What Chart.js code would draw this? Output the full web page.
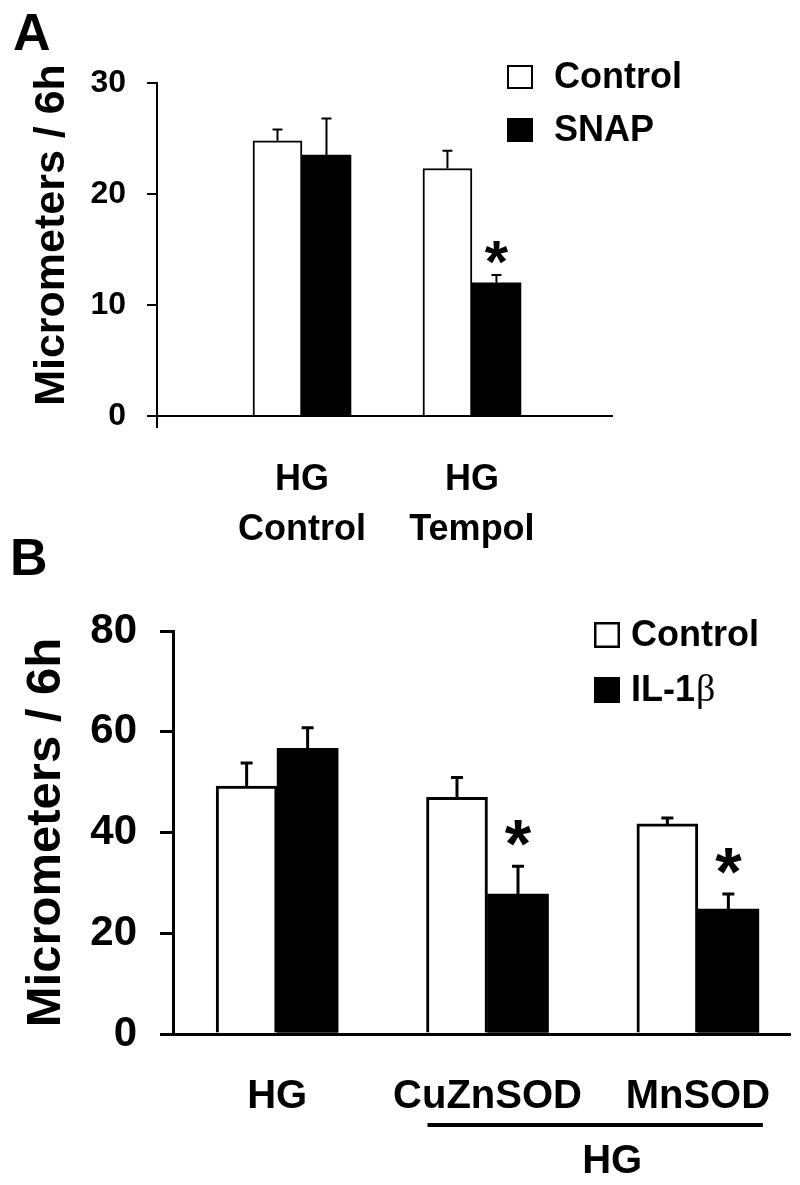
<!DOCTYPE html>
<html lang="en">
<head>
<meta charset="UTF-8">
<title>Micrometers / 6h</title>
<script src="https://cdn.jsdelivr.net/npm/chart.js"></script>
<style>
  body { margin: 0; background: #fff; width: 800px; height: 1185px; position: relative; overflow: hidden; }
  .panel { position: absolute; left: 0; width: 800px; }
  #panelA { top: 0; height: 560px; }
  #panelB { top: 520px; height: 665px; }
</style>
</head>
<body>
<div class="panel" id="panelA"><canvas id="chartA"></canvas></div>
<div class="panel" id="panelB"><canvas id="chartB"></canvas></div>
<script>
// Panel A
const categoriesA = [['HG', 'Control'], ['HG', 'Tempol']];
const seriesA = ['Control', 'SNAP'];
const controlA = [24.8, 22.3];
const controlErrA = [1.0, 1.6];
const snapA = [23.5, 12.0];
const snapErrA = [3.3, 0.7];
const snapSigA = [false, true];
const ticksA = [0, 10, 20, 30];

// Panel B
const categoriesB = ['HG', 'CuZnSOD', 'MnSOD'];
const groupLabelB = 'HG';
const seriesB = ['Control', 'IL-1β'];
const controlB = [49.2, 47.0, 41.7];
const controlErrB = [4.6, 3.9, 1.2];
const ilB = [56.7, 27.8, 24.8];
const ilErrB = [4.1, 5.5, 3.0];
const ilSigB = [false, true, true];
const ticksB = [0, 20, 40, 60, 80];

const FONT = '"Liberation Sans", Arial, sans-serif';
Chart.defaults.font.family = FONT;
Chart.defaults.color = '#000';

function pts(values) {
    return values.map((v, i) => ({ x: i + 1, y: v }));
}

// error bars (upper only) + significance stars
const errorBars = {
    id: 'errorBars',
    afterDatasetsDraw(chart, args, o) {
        const { ctx } = chart;
        const y = chart.scales.y;
        ctx.save();
        ctx.strokeStyle = '#000';
        ctx.fillStyle = '#000';
        ctx.lineWidth = o.width;
        chart.data.datasets.forEach((ds, di) => {
            chart.getDatasetMeta(di).data.forEach((bar, i) => {
                const top = y.getPixelForValue(ds.data[i].y + ds.errors[i]);
                ctx.beginPath();
                ctx.moveTo(bar.x, bar.y);
                ctx.lineTo(bar.x, top);
                ctx.moveTo(bar.x - o.cap / 2, top);
                ctx.lineTo(bar.x + o.cap / 2, top);
                ctx.stroke();
                if (ds.sig && ds.sig[i]) {
                    ctx.font = o.starFont;
                    ctx.textAlign = 'center';
                    ctx.textBaseline = 'alphabetic';
                    ctx.fillText('*', bar.x, top + o.starOffset);
                }
            });
        });
        ctx.restore();
    }
};

// legend with square swatches
const boxLegend = {
    id: 'boxLegend',
    afterDraw(chart, args, o) {
        const ctx = chart.ctx;
        ctx.save();
        chart.data.datasets.forEach((ds, i) => {
            const top = o.y + i * o.rowGap;
            ctx.fillStyle = ds.backgroundColor;
            ctx.fillRect(o.x, top, o.w, o.h);
            ctx.lineWidth = o.border;
            ctx.strokeStyle = '#000';
            ctx.strokeRect(o.x + o.border / 2, top + o.border / 2, o.w - o.border, o.h - o.border);
            ctx.fillStyle = '#000';
            ctx.textAlign = 'left';
            ctx.textBaseline = 'middle';
            const cy = top + o.h / 2 + o.textDy;
            let label = ds.label;
            let greek = '';
            if (label.endsWith('β')) { greek = 'β'; label = label.slice(0, -1); }
            ctx.font = o.font;
            ctx.fillText(label, o.textX, cy);
            if (greek) {
                const w = ctx.measureText(label).width;
                ctx.font = o.greekFont;
                ctx.fillText(greek, o.textX + w + 1, cy);
            }
        });
        ctx.restore();
    }
};

// panel letter, y title, axis extension, group underline
const panelDecor = {
    id: 'panelDecor',
    afterDraw(chart, args, o) {
        const { ctx, chartArea } = chart;
        const x = chart.scales.x;
        ctx.save();
        ctx.fillStyle = '#000';
        ctx.strokeStyle = '#000';
        ctx.textBaseline = 'alphabetic';
        ctx.textAlign = 'left';
        ctx.font = 'bold 52px ' + FONT;
        ctx.fillText(o.letter, o.letterX, o.letterY);

        ctx.save();
        ctx.translate(o.titleX, o.titleY);
        ctx.rotate(-Math.PI / 2);
        ctx.font = o.titleFont;
        ctx.textAlign = 'center';
        ctx.fillText(o.title, 0, 0);
        ctx.restore();

        if (o.axisExtend) {
            ctx.lineWidth = o.axisWidth;
            ctx.beginPath();
            ctx.moveTo(chartArea.left, chartArea.bottom);
            ctx.lineTo(chartArea.left, chartArea.bottom + o.axisExtend);
            ctx.stroke();
        }

        if (o.group) {
            const g = o.group;
            const x1 = x.getPixelForValue(g.from) - g.padL;
            const x2 = x.getPixelForValue(g.to) + g.padR;
            ctx.lineWidth = g.lineWidth;
            ctx.beginPath();
            ctx.moveTo(x1, g.y);
            ctx.lineTo(x2, g.y);
            ctx.stroke();
            ctx.font = g.font;
            ctx.textAlign = 'center';
            ctx.fillText(g.text, (x1 + x2) / 2 + g.textDx, g.textY);
        }
        ctx.restore();
    }
};

// fixed axis box sizes, without label overflow padding
function fixHeight(h) {
    return s => { s.height = h; s.paddingLeft = 0; s.paddingRight = 0; };
}

new Chart(document.getElementById('chartA'), {
    type: 'bar',
    data: {
        datasets: [
            { label: seriesA[0], data: pts(controlA), errors: controlErrA,
              backgroundColor: '#fff', borderColor: '#000', borderWidth: 2 },
            { label: seriesA[1], data: pts(snapA), errors: snapErrA, sig: snapSigA,
              backgroundColor: '#000', borderColor: '#000', borderWidth: 0 }
        ]
    },
    options: {
        responsive: true,
        maintainAspectRatio: false,
        animation: false,
        layout: { padding: { top: 83, right: 188, left: 0, bottom: 0 } },
        datasets: { bar: { barThickness: 49, grouped: true } },
        scales: {
            x: {
                type: 'linear', min: 0.147, max: 2.824, offset: false,
                afterBuildTicks: s => { s.ticks = categoriesA.map((c, i) => ({ value: i + 1 })); },
                afterFit: fixHeight(144),
                grid: { display: false, drawTicks: false, offset: false },
                border: { color: '#000', width: 2 },
                ticks: {
                    padding: 39, maxRotation: 0, autoSkip: false,
                    font: { size: 36, weight: 'bold', lineHeight: 1.39 },
                    callback: v => categoriesA[v - 1]
                }
            },
            y: {
                min: ticksA[0], max: ticksA[ticksA.length - 1],
                afterBuildTicks: s => { s.ticks = ticksA.map(v => ({ value: v })); },
                afterFit: s => { s.width = 157; },
                grid: { drawOnChartArea: false, drawTicks: true, tickLength: 10, color: '#000', lineWidth: 2 },
                border: { color: '#000', width: 2 },
                ticks: { padding: 21, font: { size: 32, weight: 'bold' } }
            }
        },
        plugins: {
            legend: { display: false },
            tooltip: { enabled: false },
            errorBars: { width: 2, cap: 10, starFont: 'bold 60px ' + FONT, starOffset: 7 },
            boxLegend: { x: 507, y: 65, w: 26, h: 24, rowGap: 53, textX: 554, textDy: 1, border: 2,
                         font: 'bold 36px ' + FONT, greekFont: '36px "Liberation Serif", serif' },
            panelDecor: { letter: 'A', letterX: 13, letterY: 50,
                          title: 'Micrometers / 6h', titleFont: 'bold 43px ' + FONT, titleX: 64, titleY: 235,
                          axisExtend: 12, axisWidth: 2 }
        }
    },
    plugins: [errorBars, boxLegend, panelDecor]
});

new Chart(document.getElementById('chartB'), {
    type: 'bar',
    data: {
        datasets: [
            { label: seriesB[0], data: pts(controlB), errors: controlErrB,
              backgroundColor: '#fff', borderColor: '#000', borderWidth: 3 },
            { label: seriesB[1], data: pts(ilB), errors: ilErrB, sig: ilSigB,
              backgroundColor: '#000', borderColor: '#000', borderWidth: 0 }
        ]
    },
    options: {
        responsive: true,
        maintainAspectRatio: false,
        animation: false,
        layout: { padding: { top: 111, right: 10, left: 0, bottom: 0 } },
        datasets: { bar: { barThickness: 61, grouped: true } },
        scales: {
            x: {
                type: 'linear', min: 0.505, max: 3.438, offset: false,
                afterBuildTicks: s => { s.ticks = categoriesB.map((c, i) => ({ value: i + 1 })); },
                afterFit: fixHeight(151),
                grid: { display: false, drawTicks: false, offset: false },
                border: { color: '#000', width: 3 },
                ticks: {
                    padding: 39, maxRotation: 0, autoSkip: false,
                    font: { size: 40, weight: 'bold', lineHeight: 1.2 },
                    callback: v => categoriesB[v - 1]
                }
            },
            y: {
                min: ticksB[0], max: ticksB[ticksB.length - 1],
                afterBuildTicks: s => { s.ticks = ticksB.map(v => ({ value: v })); },
                afterFit: s => { s.width = 173; },
                grid: { drawOnChartArea: false, drawTicks: true, tickLength: 13, color: '#000', lineWidth: 3 },
                border: { color: '#000', width: 3 },
                ticks: { padding: 23, font: { size: 42, weight: 'bold' } }
            }
        },
        plugins: {
            legend: { display: false },
            tooltip: { enabled: false },
            errorBars: { width: 3, cap: 12, starFont: 'bold 68px ' + FONT, starOffset: 1 },
            boxLegend: { x: 594, y: 102, w: 26, h: 26, rowGap: 55, textX: 631, textDy: 1, border: 2.5,
                         font: 'bold 36px ' + FONT, greekFont: '38px "Liberation Serif", serif' },
            panelDecor: { letter: 'B', letterX: 10, letterY: 55,
                          title: 'Micrometers / 6h', titleFont: 'bold 49px ' + FONT, titleX: 60, titleY: 312.5,
                          group: { from: 2, to: 3, padL: 60, padR: 65, y: 605, lineWidth: 4,
                                   text: groupLabelB, textDx: 17, textY: 653, font: 'bold 40px ' + FONT } }
        }
    },
    plugins: [errorBars, boxLegend, panelDecor]
});
</script>
</body>
</html>
